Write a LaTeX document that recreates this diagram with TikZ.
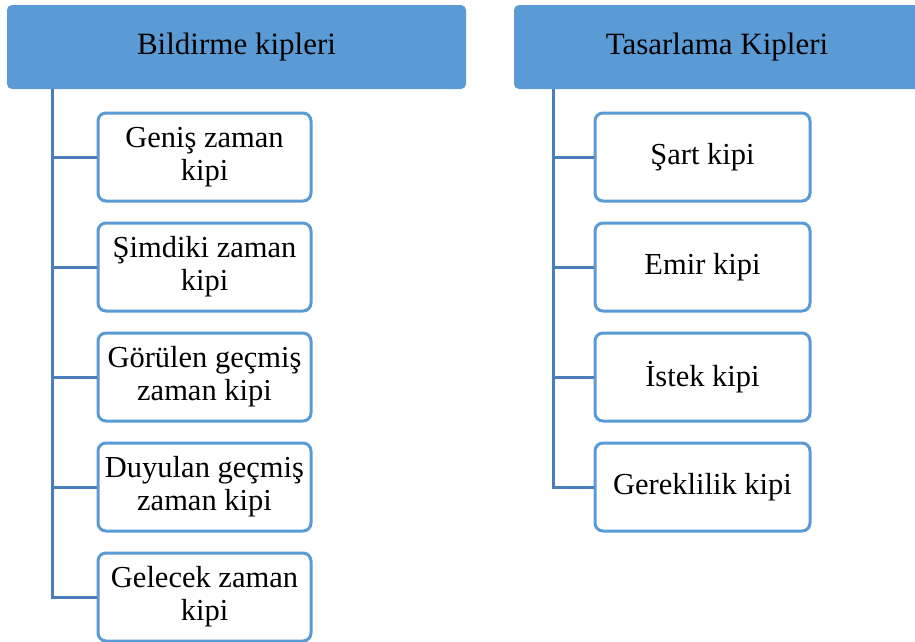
\documentclass[tikz,border=0pt]{standalone}
\usepackage{fontspec}
\setmainfont{Liberation Serif}
\begin{document}
\begin{tikzpicture}[x=1pt,y=-1pt,
  hdr/.style={draw=none, fill=hdrblue, rounded corners=5pt, minimum height=84pt, inner sep=0pt,
    font=\fontsize{31}{33}\selectfont},
  kbox/.style={draw=boxblue, line width=3pt, fill=white, rounded corners=8pt,
    minimum width=213pt, minimum height=88pt, align=center, inner sep=0pt,
    font=\fontsize{30.5}{33}\selectfont},
  conn/.style={draw=lineblue, line width=3pt}]
\definecolor{hdrblue}{HTML}{5B9BD5}
\definecolor{boxblue}{HTML}{5B9BD5}
\definecolor{lineblue}{HTML}{4A7EBB}
\clip (0,0) rectangle (915,641);
\useasboundingbox (0,0) rectangle (915,641);
% headers
\node[hdr, minimum width=459pt] (h1) at (236.5,47) {Bildirme kipleri};
\node[hdr, minimum width=412pt] (h2) at (720,47) {};
\node (h2t) at (717,47) [font=\fontsize{31}{33}\selectfont, inner sep=0pt] {Tasarlama Kipleri};
% left boxes
\node[kbox] (a1) at (204.5,157) {Geniş zaman\\kipi};
\node[kbox] (a2) at (204.5,267) {Şimdiki zaman\\kipi};
\node[kbox] (a3) at (204.5,377) {Görülen geçmiş\\zaman kipi};
\node[kbox] (a4) at (204.5,487) {Duyulan geçmiş\\zaman kipi};
\node[kbox] (a5) at (204.5,597) {Gelecek zaman\\kipi};
% right boxes
\node[kbox, minimum width=215pt] (b1) at (702.5,157) {Şart kipi};
\node[kbox, minimum width=215pt] (b2) at (702.5,267) {Emir kipi};
\node[kbox, minimum width=215pt] (b3) at (702.5,377) {İstek kipi};
\node[kbox, minimum width=215pt] (b4) at (702.5,487) {Gereklilik kipi};
% connectors
\coordinate (t1) at (52,89);
\coordinate (t2) at (553,89);
\draw[conn] (t1) |- (a5.west);
\foreach \n in {a1,a2,a3,a4} \draw[conn] (t1 |- \n.west) -- (\n.west);
\draw[conn] (t2) |- (b4.west);
\foreach \n in {b1,b2,b3} \draw[conn] (t2 |- \n.west) -- (\n.west);
\end{tikzpicture}
\end{document}
